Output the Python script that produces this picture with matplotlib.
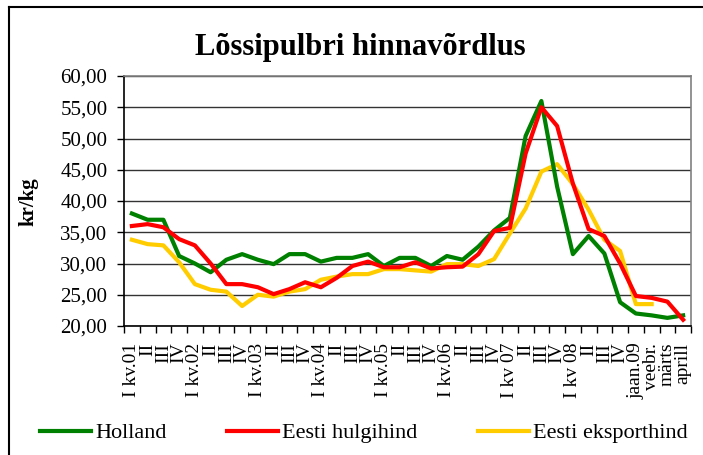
import numpy as np
import matplotlib
matplotlib.use("Agg")
import matplotlib.pyplot as plt
from matplotlib.lines import Line2D
from matplotlib.ticker import FuncFormatter

plt.rcParams['font.family'] = ['Liberation Serif', 'DejaVu Serif']

labels = ["I kv.01", "II", "III", "IV", "I kv.02", "II", "III", "IV",
          "I kv.03", "II", "III", "IV", "I kv.04", "II", "III", "IV",
          "I kv.05", "II", "III", "IV", "I kv.06", "II", "III", "IV",
          "I kv 07", "II", "III", "IV", "I kv 08", "II", "III", "IV",
          "jaan.09", "veebr.", "märts", "aprill"]

holland = [38.0, 37.0, 37.0, 31.2, 30.0, 28.6, 30.6, 31.5, 30.6, 29.9,
           31.5, 31.5, 30.3, 30.9, 30.9, 31.5, 29.6, 30.9, 30.9, 29.6,
           31.2, 30.6, 32.7, 35.3, 37.3, 50.4, 56.0, 42.3, 31.5, 34.4,
           31.6, 23.8, 22.0, 21.7, 21.3, 21.7]
hulgihind = [36.0, 36.3, 35.8, 33.9, 32.9, 30.0, 26.7, 26.7, 26.2, 25.1,
             25.9, 27.0, 26.2, 27.7, 29.6, 30.3, 29.4, 29.4, 30.2, 29.2,
             29.4, 29.5, 31.5, 35.2, 35.7, 47.6, 55.0, 52.0, 42.8, 35.5,
             34.4, 30.0, 24.8, 24.5, 23.9, 21.0]
eksport = [33.8, 33.1, 32.9, 30.2, 26.7, 25.8, 25.5, 23.2, 25.0, 24.7,
           25.5, 25.9, 27.4, 27.9, 28.3, 28.3, 29.1, 29.1, 28.9, 28.7,
           29.9, 29.9, 29.6, 30.7, 34.8, 38.8, 44.7, 45.9, 42.7, 38.6,
           33.8, 32.0, 23.5, 23.5]

fig = plt.figure(figsize=(7.03, 4.55), dpi=100)
ax = fig.add_axes([124 / 703, 1 - 326 / 455, 567 / 703, 250 / 455])

x = np.arange(len(labels))
ax.plot(x, holland, color="#008000", lw=3, label="Holland", zorder=3)
ax.plot(x, hulgihind, color="#ff0000", lw=3, label="Eesti hulgihind", zorder=4)
ax.plot(np.arange(len(eksport)), eksport, color="#ffcc00", lw=3,
        label="Eesti eksporthind", zorder=2)

ax.set_xlim(-0.5, len(labels) - 0.5)
ax.set_ylim(20, 60)
ax.set_yticks(np.arange(20, 61, 5))
ax.yaxis.set_major_formatter(FuncFormatter(lambda v, p: f"{v:.2f}".replace(".", ",")))
ax.grid(axis="y", color="#333333", lw=1)
ax.set_axisbelow(True)

ax.set_xticks(x)
ax.set_xticklabels(labels, rotation=90, fontsize=14)
ax.set_xticks(np.arange(-0.5, len(labels), 1), minor=True)
ax.tick_params(axis="x", which="major", length=0, pad=12)
ax.tick_params(axis="x", which="minor", length=5, width=1)
ax.tick_params(axis="y", labelsize=15, length=5, width=1, pad=7)

for s in ["top", "right"]:
    ax.spines[s].set_color("#808080")
    ax.spines[s].set_linewidth(1.2)
for s in ["left", "bottom"]:
    ax.spines[s].set_linewidth(1.2)

fig.text(360 / 703, 1 - 55 / 455, "Lõssipulbri hinnavõrdlus", ha="center",
         va="baseline", fontsize=22, fontweight="bold")
fig.text(28 / 703, 1 - 202 / 455, "kr/kg", rotation=90, ha="center",
         va="center", fontsize=15, fontweight="bold")

fig.legend(loc="center left", bbox_to_anchor=(40 / 703, 1 - 433 / 455),
           ncol=3, frameon=False, fontsize=16, handlelength=2.3,
           handletextpad=0.2, columnspacing=2.7, borderpad=0, borderaxespad=0)

fig.add_artist(Line2D([9 / 703, 1], [1 - 7 / 455, 1 - 7 / 455], color="black", lw=1.5))
fig.add_artist(Line2D([9 / 703, 9 / 703], [0, 1 - 7 / 455], color="black", lw=1.5))

fig.savefig("out.png", dpi=100)
